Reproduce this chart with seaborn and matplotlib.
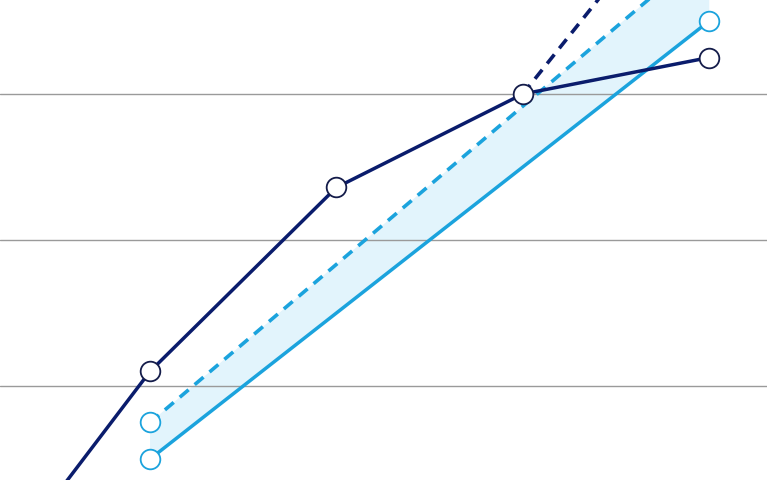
import matplotlib
matplotlib.use("Agg")
import matplotlib.pyplot as plt
import seaborn as sns
import pandas as pd
import numpy as np

# Data (arbitrary units)
years_hist = [-1, 0, 1, 2, 3]
navy_actual = [-5.8, 11.0, 23.6, 30.0, 32.5]
navy_proj_x = [2, 3]
navy_proj = [30.0, 46.0]
blue_x = [0, 3]
blue_low = [5.0, 35.0]
blue_high = [7.5, 40.0]
grid_vals = [10, 20, 30]

NAVY = "#0a1c6c"
MARK_EDGE = "#141c4a"
BLUE = "#1ba3dd"
FILL = "#e2f4fc"

sns.set_theme(style="white")
fig = plt.figure(figsize=(7.67, 4.8), dpi=100)
ax = fig.add_axes([0, 0, 1, 1])

ax.fill_between(blue_x, blue_low, blue_high, color=FILL, lw=0, zorder=1)
for g in grid_vals:
    ax.axhline(g, color="#9a9a9a", lw=1.0, zorder=2)

df_blue_hi = pd.DataFrame({"x": blue_x, "y": blue_high})
df_blue_lo = pd.DataFrame({"x": blue_x, "y": blue_low})
df_navy_p = pd.DataFrame({"x": navy_proj_x, "y": navy_proj})
df_navy = pd.DataFrame({"x": years_hist, "y": navy_actual})

sns.lineplot(data=df_blue_hi, x="x", y="y", ax=ax, color=BLUE, lw=2.6,
             linestyle=(0, (3.2, 2.2)), zorder=3)
sns.lineplot(data=df_blue_lo, x="x", y="y", ax=ax, color=BLUE, lw=2.5, zorder=3)
sns.lineplot(data=df_navy_p, x="x", y="y", ax=ax, color=NAVY, lw=2.6,
             linestyle=(0, (3.2, 2.2)), zorder=4)
sns.lineplot(data=df_navy, x="x", y="y", ax=ax, color=NAVY, lw=2.5, zorder=5)

ax.scatter(blue_x, blue_high, s=200, facecolor="white", edgecolor=BLUE, lw=1.3, zorder=6)
ax.scatter(blue_x, blue_low, s=200, facecolor="white", edgecolor=BLUE, lw=1.3, zorder=6)
ax.scatter(years_hist, navy_actual, s=200, facecolor="white", edgecolor=MARK_EDGE, lw=1.3, zorder=7)

ax.set_xlim(-0.805, 3.31)
ax.set_ylim(3.56, 36.44)
ax.set_xlabel("")
ax.set_ylabel("")
ax.set_xticks([])
ax.set_yticks([])
for s in ax.spines.values():
    s.set_visible(False)
if ax.get_legend():
    ax.get_legend().remove()

fig.savefig("out.png", dpi=100)
